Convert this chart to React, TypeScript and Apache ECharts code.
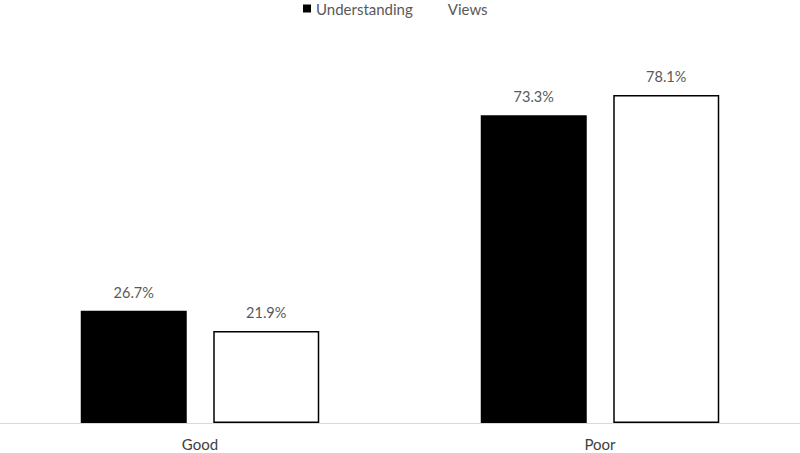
import React, { useEffect, useRef } from "react";
import * as echarts from "echarts";

const categories = ["Good", "Poor"];
const understanding = [26.7, 73.3];
const views = [21.9, 78.1];

export default function App() {
  const ref = useRef<HTMLDivElement>(null);
  useEffect(() => {
    const chart = echarts.init(ref.current!, null, { renderer: "svg" });
    const font = "Lato, 'Open Sans', sans-serif";
    chart.setOption({
      animation: false,
      backgroundColor: "#ffffff",
      textStyle: { fontFamily: font },
      legend: {
        top: -4,
        left: 298,
        itemWidth: 8,
        itemHeight: 8,
        itemGap: 22,
        icon: "rect",
        textStyle: { color: "#595959", fontSize: 15, fontFamily: font },
        data: [
          { name: "Understanding", itemStyle: { color: "#000000", borderWidth: 0 } },
          { name: "Views", itemStyle: { color: "#ffffff", borderWidth: 0 } },
        ],
      },
      grid: { left: 0, right: 0, top: 45, bottom: 30, containLabel: false },
      xAxis: {
        type: "category",
        data: categories,
        axisLine: { lineStyle: { color: "#d9d9d9", width: 1 } },
        axisTick: { show: false },
        axisLabel: { color: "#404040", fontSize: 15, margin: 13, fontFamily: font },
      },
      yAxis: {
        type: "value",
        min: 0,
        max: 90,
        show: false,
        splitLine: { show: false },
      },
      series: [
        {
          name: "Understanding",
          type: "bar",
          data: understanding,
          barWidth: 106,
          barGap: "25%",
          itemStyle: { color: "#000000" },
          label: {
            show: true,
            position: "top",
            distance: 11,
            formatter: (p: any) => p.value.toFixed(1) + "%",
            color: "#595959",
            fontSize: 14.5,
            fontFamily: font,
          },
        },
        {
          name: "Views",
          type: "bar",
          data: views,
          barWidth: 106,
          itemStyle: { color: "#ffffff", borderColor: "#000000", borderWidth: 1.5 },
          label: {
            show: true,
            position: "top",
            distance: 11,
            formatter: (p: any) => p.value.toFixed(1) + "%",
            color: "#595959",
            fontSize: 14.5,
            fontFamily: font,
          },
        },
      ],
    });
    return () => chart.dispose();
  }, []);
  return <div ref={ref} style={{ width: 800, height: 453, position: "absolute", left: 0, top: 0 }} />;
}
